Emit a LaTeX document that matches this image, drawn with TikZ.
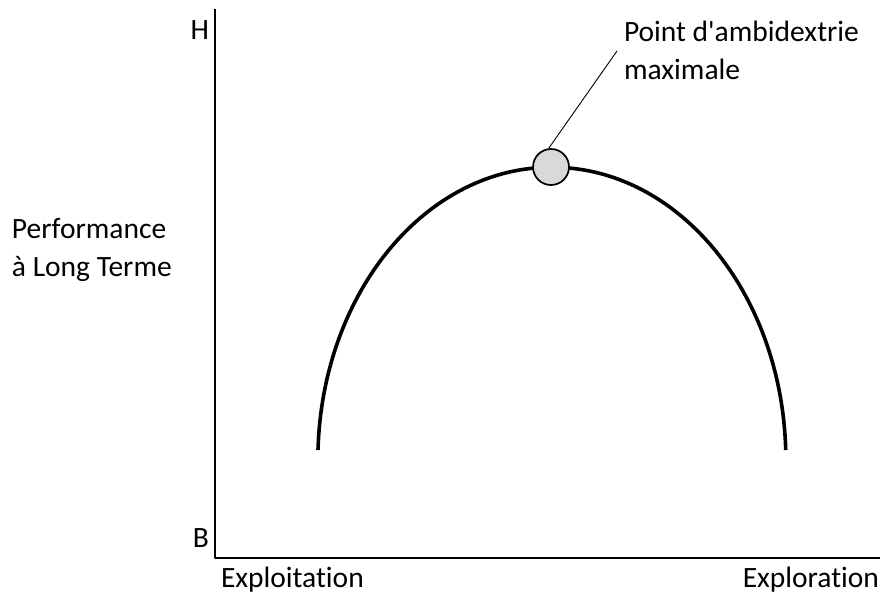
\documentclass[tikz,border=0pt]{standalone}
\usepackage{fontspec}
\setmainfont{Carlito}[Ligatures={TeXOff,NoCommon}]
\begin{document}
\begin{tikzpicture}[x=1pt,y=-1pt,line join=round,font=\fontsize{29.5}{38}\selectfont]
	\def\ra{234}\def\rb{293}
	\tikzset{t/.style={inner sep=0pt,outer sep=0pt},ax/.style={line width=2.6pt},
		pt/.style={circle,draw,line width=1.7pt,fill=black!15,minimum size=36pt,inner sep=0pt}}
	\useasboundingbox(0,0)rectangle(880,596);
	
	\path(215,9)coordinate(top)(215,558)coordinate(O)(880,558)coordinate(right)(617,51)coordinate(tip);
	\draw[ax](top)--(O)--(right);
	\draw[line width=3.6pt](318,450)arc[start angle=182,end angle=358,x radius=\ra,y radius=\rb];
	\node[pt](M) at (551,167){};
	\draw[line width=0.9pt](M.97)--(tip);
	\path
	(209,40)node[t,anchor=base east](H){H}
	(209,547)node[t,anchor=base east](B){B}
	(12,276)node[t,anchor=base west,align=left](perf){Performance\\à Long Terme}
	(221,587)node[t,anchor=base west](expt){Exploitation}
	(879,587)node[t,anchor=base east](expr){Exploration}
	(624,80)node[t,anchor=base west,align=left](lab){Point d'ambidextrie\\maximale}
	;
\end{tikzpicture}
\end{document}
